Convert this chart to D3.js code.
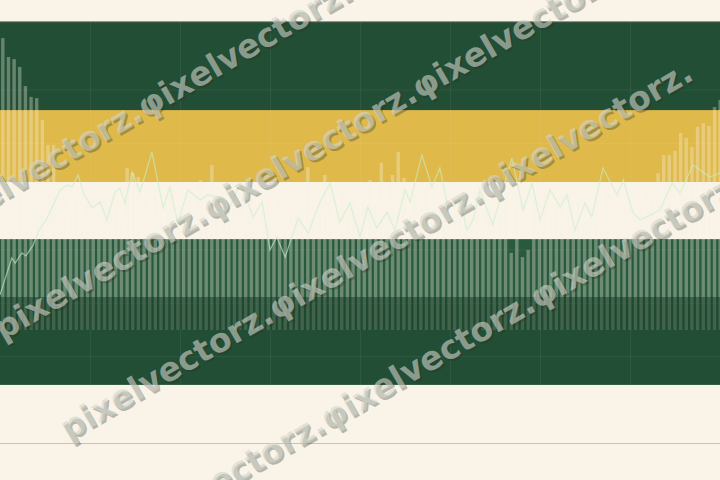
<!DOCTYPE html>
<html><head><meta charset="utf-8">
<script src="https://cdn.jsdelivr.net/npm/d3@7/dist/d3.min.js"></script>
<style>html,body{margin:0;padding:0;background:#f9f3e8;}svg{display:block;}</style>
</head><body>
<svg id="c" width="720" height="480"></svg>
<script>
// ---- data ----
const barValues = [97.3,91,90.3,87.7,81.3,77.7,77.3,70,61.7,61.7,
 47,44,40,45,38,42,46,39,43,41,45,37,
 54,52.3,51,
 44,40,46,38,42,47,36,41,45,39,
 50,43,55,
 40,46,37,44,42,38,47,35,41,45,39,43,36,46,40,44,
 54.3,42,38,51.7,
 44,37,46,40,43,39,45,
 50,41,55.7,43,51.7,59.3,50.7,
 38,45,41,47,36,43,40,46,39,44,37,42,46,35,41,45,38,43,
 25.7,40,24.3,26.7,
 44,39,46,37,42,45,38,43,47,36,41,44,39,46,40,37,43,45,38,42,47,44,
 52.3,58.3,58.3,59.7,65.7,64,61,67.7,69,68,74.3,76.7];
const lineX = [0,2.1,2.7,3.9,4.6,5.9,6.9,8,9.2,10.7,11.9,12.8,13.9,14.8,16.4,17.8,19,20.4,21.3,22.2,
 23.5,24.9,27,29,30.2,31.6,33.4,35.6,36.8,39.1,40.5,42.7,45,46.6,48,49.2,50.7,53,54.8,56.9,
 58.7,60.4,62.2,64,65.4,67,68.8,70.2,72,72.9,75,76.8,78.2,79.6,81.8,83,84.1,85.3,87.6,91,
 93,94.6,96,97.8,99.6,100.8,102.2,104,105.2,107.2,109.7,110.8,112.5,113.8,115.6,117.3,119.5,120.9,123.2,126.2,128];
const lineValues = [11.7,24,22.3,25.7,24.7,28.3,33.3,36,40.7,46.7,48.3,47.7,51.7,45.7,40.7,42.7,36.7,45.7,47.3,42.3,
 52.7,46,59.3,40.7,47.7,35.7,46.7,43.3,45,44.3,39.3,49,37.7,42.7,26.7,31,24.3,37.3,32.3,42.7,
 49,36,42.3,31,41,34,39.3,33.3,46.7,42.7,58.3,47.7,54,41,43.3,33.3,36.7,46.7,35,57.3,
 40,49,36.7,46.7,41,45,33.3,42.3,37.7,54,45,50,39.3,36.7,38.3,40,49,45.7,55,51,52.3];
const bandNames = ["green","yellow","cream","lightgreen"];
const bandTop = [102.7,73.3,49.5,30.2];
const bandBottom = [-18.3,49.5,30.2,11];
const bandColors = ["#224e35","#dfb94a","#f9f3e8","#2a5a3d"];
const gridX = [16,32,48,64,80,96,112];
const gridValues = [80,62.2,44.4,26.7,8.9,-8.9];
const baseValue = -37.7;
const watermarkText = "pixelvectorz.φixelvectorz.φixelvectorz.φixelvectorz.";

// ---- scales ----
const W = 720, H = 480;
const svg = d3.select("#c");
const xLin = d3.scaleLinear().domain([0,128]).range([0,720]);
const xBand = d3.scaleBand().domain(d3.range(barValues.length)).range([0,723]).paddingInner(0.4).paddingOuter(0.2);
const y = d3.scaleLinear().domain([0,100]).range([330,30]);

svg.append("rect").attr("width",W).attr("height",H).attr("fill","#f9f3e8");

// bands
svg.append("g").selectAll("rect").data(bandNames).join("rect")
  .attr("x",0).attr("width",W)
  .attr("y",(d,i)=>y(bandTop[i]))
  .attr("height",(d,i)=>y(bandBottom[i])-y(bandTop[i]))
  .attr("fill",(d,i)=>bandColors[i]);
svg.append("line").attr("x1",0).attr("x2",W).attr("y1",y(bandTop[0])).attr("y2",y(bandTop[0]))
  .attr("stroke","#5f6452").attr("stroke-width",1);

// grid
const g = svg.append("g").attr("stroke","#ffffff").attr("stroke-opacity",0.06).attr("stroke-width",1);
g.selectAll("line.v").data(gridX).join("line").attr("class","v")
  .attr("x1",d=>xLin(d)+0.5).attr("x2",d=>xLin(d)+0.5)
  .attr("y1",y(bandTop[0])).attr("y2",y(bandBottom[0]));
g.selectAll("line.h").data(gridValues).join("line").attr("class","h")
  .attr("x1",0).attr("x2",W).attr("y1",d=>y(d)).attr("y2",d=>y(d));

// bars
svg.append("g").selectAll("rect").data(barValues).join("rect")
  .attr("x",(d,i)=>xBand(i)).attr("width",xBand.bandwidth())
  .attr("y",d=>y(d)).attr("height",d=>y(0)-y(d))
  .attr("fill","#f9f3e8").attr("fill-opacity",0.33);

// dark lower band overlay
svg.append("rect").attr("x",0).attr("width",W)
  .attr("y",y(11)).attr("height",y(0)-y(11))
  .attr("fill","#1a4129").attr("fill-opacity",0.5);

// line
const line = d3.line().x((d,i)=>xLin(lineX[i])).y(d=>y(d));
svg.append("path").datum(lineValues).attr("d",line)
  .attr("fill","none").attr("stroke","#c8f0c8").attr("stroke-opacity",0.6).attr("stroke-width",1.3);

// base axis line
svg.append("line").attr("x1",0).attr("x2",W).attr("y1",Math.round(y(baseValue))+0.5).attr("y2",Math.round(y(baseValue))+0.5)
  .attr("stroke","#c9c3b5").attr("stroke-width",1);

// watermark
const rows = [[-67,231,3],[-2,333,4],[64,433,3],[116,543,3]];
const wm = svg.append("g").style("font-family","DejaVu Sans").style("font-weight","bold").style("font-size","33px");
rows.forEach(r=>{
  const reps = r[2];
  const txt = watermarkText.split("z.").slice(0,reps).join("z.")+"z.";
  wm.append("text").attr("transform",`translate(${r[0]+2},${r[1]+2}) rotate(-30)`).attr("dy","0.27em")
    .attr("fill","#283022").attr("fill-opacity",0.32).text(txt);
  wm.append("text").attr("transform",`translate(${r[0]},${r[1]}) rotate(-30)`).attr("dy","0.27em")
    .attr("fill","#d2d6cc").attr("fill-opacity",0.6).text(txt);
});
</script>
</body></html>
